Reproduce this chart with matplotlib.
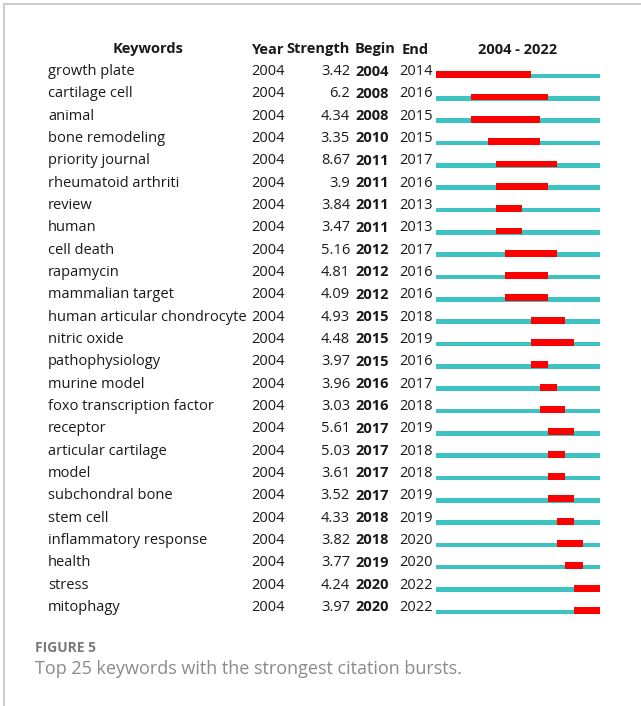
import matplotlib.pyplot as plt
from matplotlib.lines import Line2D

# --- citation burst table ---
keywords = [
    "growth plate", "cartilage cell", "animal", "bone remodeling",
    "priority journal", "rheumatoid arthriti", "review", "human",
    "cell death", "rapamycin", "mammalian target",
    "human articular chondrocyte", "nitric oxide", "pathophysiology",
    "murine model", "foxo transcription factor", "receptor",
    "articular cartilage", "model", "subchondral bone", "stem cell",
    "inflammatory response", "health", "stress", "mitophagy",
]
first_year = [2004] * 25
strength = [3.42, 6.2, 4.34, 3.35, 8.67, 3.9, 3.84, 3.47, 5.16, 4.81, 4.09,
            4.93, 4.48, 3.97, 3.96, 3.03, 5.61, 5.03, 3.61, 3.52, 4.33,
            3.82, 3.77, 4.24, 3.97]
begin = [2004, 2008, 2008, 2010, 2011, 2011, 2011, 2011, 2012, 2012, 2012,
         2015, 2015, 2015, 2016, 2016, 2017, 2017, 2017, 2017, 2018,
         2018, 2019, 2020, 2020]
end = [2014, 2016, 2015, 2015, 2017, 2016, 2013, 2013, 2017, 2016, 2016,
       2018, 2019, 2016, 2017, 2018, 2019, 2018, 2018, 2019, 2019,
       2020, 2020, 2022, 2022]
span_start, span_end = 2004, 2022

W, H = 641, 706
FONT = "Open Sans"
TEAL = "#3EC3C3"
RED = "#FF0000"
ROW0, DY = 70.0, 22.33
FS = 10.5

fig = plt.figure(figsize=(W / 100, H / 100), dpi=100)
fig.patch.set_facecolor("white")


def fx(px):
    return px / W


def fy(py):
    return 1 - py / H


def put(px, py, s, **kw):
    kw.setdefault("fontsize", FS)
    kw.setdefault("family", FONT)
    kw.setdefault("color", "#1a1a1a")
    kw.setdefault("va", "center")
    fig.text(fx(px), fy(py + 1.5), s, **kw)


# frame lines (top and left)
fig.add_artist(Line2D([fx(4), fx(W)], [fy(4), fy(4)], color="#c4c4c4", lw=1.2))
fig.add_artist(Line2D([fx(4), fx(4)], [fy(4), fy(H)], color="#c4c4c4", lw=1.2))

# header
HY = 48
put(148, HY, "Keywords", ha="center", weight="bold")
put(252, HY, "Year", weight="bold")
put(350, HY, "Strength", ha="right", weight="bold")
put(355, HY, "Begin", weight="bold")
put(402, HY, "End", weight="bold")
put(518, HY, f"{span_start} - {span_end}", ha="center", weight="bold")

# table rows
for i, kw in enumerate(keywords):
    y = ROW0 + DY * i
    put(48, y, kw)
    put(251, y, str(first_year[i]))
    put(350, y, f"{strength[i]:g}", ha="right")
    put(355, y, str(begin[i]), weight="bold")
    put(399, y, str(end[i]))

# burst bars
n = len(keywords)
bar_y0 = ROW0 + 6
top = bar_y0 - DY / 2
bot = bar_y0 + DY * (n - 0.5)
axb = fig.add_axes([fx(436), fy(bot), fx(600) - fx(436), (bot - top) / H])
axb.set_xlim(span_start, span_end + 1)
axb.set_ylim(n - 0.5, -0.5)
axb.axis("off")
rows = list(range(n))
axb.barh(rows, span_end + 1 - span_start, left=span_start, height=0.2,
         color=TEAL, linewidth=0)
widths = [e + 1 - b for b, e in zip(begin, end)]
axb.barh([r - 0.06 for r in rows], widths, left=begin, height=0.31,
         color=RED, linewidth=0)

# caption
put(35, 646, "FIGURE 5", fontsize=10, weight="bold", color="#7a7a7a")
put(35, 668, "Top 25 keywords with the strongest citation bursts.",
    fontsize=13, color="#8a8a8a")

fig.savefig("out.png", dpi=100)
